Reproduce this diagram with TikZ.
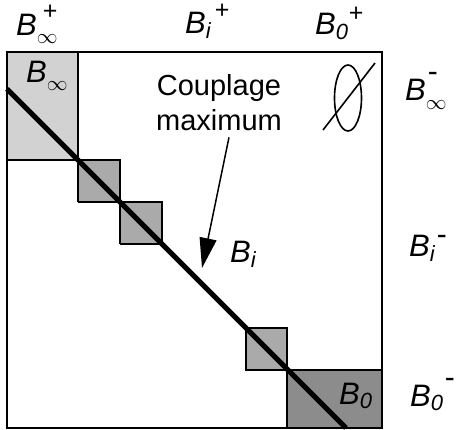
\documentclass[tikz,border=0pt]{standalone}
\usepackage{fontspec}
\setmainfont{Liberation Sans}
\usetikzlibrary{arrows.meta}
\definecolor{lightblk}{HTML}{D2D2D2}
\definecolor{midblk}{HTML}{AAAAAA}
\definecolor{darkblk}{HTML}{8C8C8C}
\newcommand{\subsz}{\fontsize{22}{22}\selectfont}
\newcommand{\supp}{{\fontsize{25}{25}\selectfont\upshape +}}
\newcommand{\supm}{{\fontsize{30}{30}\selectfont\upshape -}}
% #1 sub, #2 sub lowering, #3 sup, #4 sup raise, #5 gap before sup
\newcommand{\lab}[5]{B\rlap{\raisebox{-#2}{\subsz #1}}\hspace{#5}\raisebox{#4}{#3}}
\newcommand{\labs}[2]{B\raisebox{-#2}{\subsz #1}}
\begin{document}
\begin{tikzpicture}[x=1pt,y=-1pt,
  lbl/.style={font=\fontsize{31}{31}\selectfont\itshape, inner sep=0pt, anchor=base west},
  blk/.style={line width=2.6pt},
  diag/.style={line width=5pt},
  frame/.style={line width=1.8pt}]
\useasboundingbox (0,0) rectangle (456,430);
% blocks
\fill[lightblk] (7,52) rectangle (78,160);
\fill[midblk] (78,160) rectangle (120,202);
\fill[midblk] (120,202) rectangle (162,244);
\fill[midblk] (246,328) rectangle (287,370);
\fill[darkblk] (287,370) rectangle (382,428);
% frame
\draw[frame] (7,52) rectangle (382,428);
% block edges
\draw[blk] (78,52) -- (78,202);
\draw[blk] (7,160) -- (120,160) -- (120,244);
\draw[blk] (78,202) -- (162,202) -- (162,244) -- (120,244);
\draw[blk] (246,328) rectangle (287,370);
\draw[blk] (246,370) -- (382,370);
\draw[blk] (287,370) -- (287,428);
% diagonal
\coordinate (d1) at (7,89);
\coordinate (d2) at (346,428);
\draw[diag] (d1) -- (d2);
% empty set
\draw[line width=1.6pt] (348,98) ellipse [x radius=13.5, y radius=33];
\coordinate (e1) at (323,130);
\coordinate (e2) at (375,63);
\draw[line width=1.6pt] (e1) -- (e2);
% column labels
\node[lbl] (binfp) at (16,36) {\lab{$\infty$}{8pt}{\supp}{16pt}{6pt}};
\node[lbl] (bip) at (185,34) {\lab{i}{5pt}{\supp}{15pt}{9pt}};
\node[lbl] (b0p) at (315,35) {\lab{0}{5pt}{\supp}{13pt}{13pt}};
% row labels
\node[lbl] (binfm) at (405,101) {\lab{$\infty$}{9pt}{\supm}{19pt}{2pt}};
\node[lbl] (bim) at (409,257) {\lab{i}{5pt}{\supm}{12pt}{7pt}};
\node[lbl] (b0m) at (410,407) {\lab{0}{4pt}{\supm}{19pt}{14pt}};
% block labels
\node[lbl] (binf) at (26,83) {\labs{$\infty$}{8pt}};
\node[lbl] (bi) at (230,263) {\labs{i}{5pt}};
\node[lbl] (b0) at (339,405) {\labs{0}{4pt}};
% annotation
\node[font=\fontsize{29}{35}\selectfont, align=center, inner sep=0pt] (coup) at (219,103) {Couplage\\maximum};
\coordinate (tip) at (202,268);
\draw[line width=1.5pt, -{Triangle[length=30pt,width=17pt]}] ([xshift=10pt,yshift=-6pt]coup.south) -- (tip);
\end{tikzpicture}
\end{document}
